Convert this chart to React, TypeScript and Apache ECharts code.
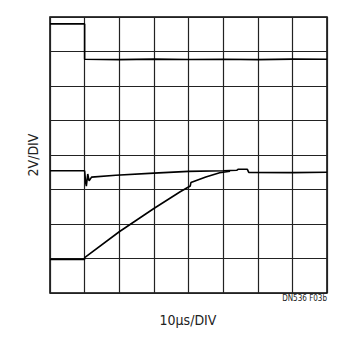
import React, { useEffect, useRef } from "react";
import * as echarts from "echarts";

// time in µs (10 µs/div), voltage in V (2 V/div), 8 x 8 divisions
const xTicks = [0, 10, 20, 30, 40, 50, 60, 70, 80];
const yTicks = [0, 2, 4, 6, 8, 10, 12, 14, 16];

const trace1: [number, number][] = [
  [0, 15.6], [10, 15.6], [10, 13.55], [20, 13.53], [30, 13.56], [40, 13.54],
  [50, 13.55], [60, 13.53], [70, 13.56], [80, 13.55],
];

const trace2: [number, number][] = [
  [0, 7.09], [10, 7.09], [10.3, 6.4], [10.5, 6.2], [10.9, 6.9], [11.3, 6.5],
  [12, 6.72], [19, 6.83], [30, 6.95], [40, 7.05], [50, 7.09], [54, 7.12],
  [54.3, 7.17], [57, 7.17], [57.4, 6.99], [70, 6.98], [80, 7.0],
];

const trace3: [number, number][] = [
  [0, 1.95], [10, 1.95], [10, 2.05], [20, 3.55], [30, 4.9], [37.6, 5.87],
  [40.5, 6.2], [40.7, 6.4], [45, 6.72], [49, 6.97], [52, 7.06],
];

export default function App() {
  const ref = useRef<HTMLDivElement>(null);
  useEffect(() => {
    if (!ref.current) return;
    const chart = echarts.init(ref.current, null, { renderer: "svg" });
    const font = "'Liberation Sans Narrow', 'DejaVu Sans Condensed', 'Liberation Sans', sans-serif";
    const lineSeries = (data: [number, number][]) => ({
      type: "line",
      data,
      showSymbol: false,
      symbol: "none",
      lineStyle: { color: "#000", width: 1.6 },
      silent: true,
    });
    chart.setOption({
      animation: false,
      backgroundColor: "#fff",
      grid: {
        left: 50, top: 17, width: 277, height: 276,
        show: true, borderColor: "#000", borderWidth: 1.5, backgroundColor: "transparent",
      },
      xAxis: {
        type: "value", min: xTicks[0], max: xTicks[xTicks.length - 1], interval: 10,
        axisLine: { show: false }, axisTick: { show: false }, axisLabel: { show: false },
        splitLine: { show: true, lineStyle: { color: "#222", width: 1.2 } },
      },
      yAxis: {
        type: "value", min: yTicks[0], max: yTicks[yTicks.length - 1], interval: 2,
        axisLine: { show: false }, axisTick: { show: false }, axisLabel: { show: false },
        splitLine: { show: true, lineStyle: { color: "#222", width: 1.2 } },
      },
      graphic: [
        {
          type: "text", x: 33, y: 155, rotation: Math.PI / 2,
          style: { text: "2V/DIV", font: `14px ${font}`, fill: "#222", align: "center", verticalAlign: "middle" },
        },
        {
          type: "text", x: 188, y: 320,
          style: { text: "10µs/DIV", font: `14px ${font}`, fill: "#222", align: "center", verticalAlign: "middle" },
        },
        {
          type: "text", x: 327, y: 298,
          style: { text: "DN536 F03b", font: `8px ${font}`, fill: "#222", align: "right", verticalAlign: "middle" },
        },
      ],
      series: [lineSeries(trace1), lineSeries(trace2), lineSeries(trace3)],
    });
    return () => chart.dispose();
  }, []);
  return <div ref={ref} style={{ width: 357, height: 337, position: "absolute", left: 0, top: 0 }} />;
}
